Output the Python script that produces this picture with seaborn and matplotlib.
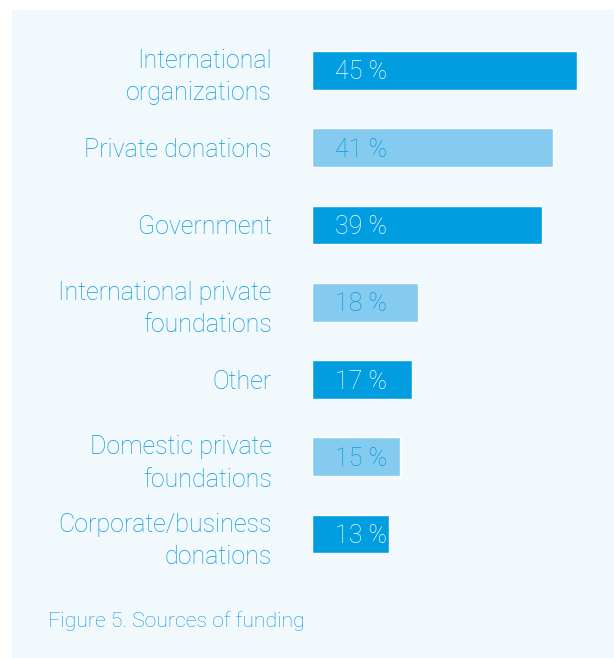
import matplotlib

matplotlib.use("Agg")

import matplotlib.pyplot as plt
import seaborn as sns
from matplotlib.patches import Rectangle

categories = [
    "International\norganizations",
    "Private donations",
    "Government",
    "International private\nfoundations",
    "Other",
    "Domestic private\nfoundations",
    "Corporate/business\ndonations",
]
shares = [45, 41, 39, 18, 17, 15, 13]
value_labels = ["45 %", "41 %", "39 %", "18 %", "17 %", "15 %", "13 %"]

DARK = "#009ee0"
LIGHT = "#84cbef"
TEXT = "#0c99dd"
PANEL = "#f2f9fd"
bar_colors = [DARK if i % 2 == 0 else LIGHT for i in range(len(categories))]
label_colors = ["#f7fbfe" if i % 2 == 0 else "#0c99dd" for i in range(len(categories))]

sns.set_theme(style="white")
plt.rcParams["font.family"] = ["Roboto", "DejaVu Sans"]

W, H = 614, 658
fig = plt.figure(figsize=(W / 100, H / 100), dpi=100, facecolor="white")
fig.patches.append(
    Rectangle((12 / W, 0), 1 - 12 / W, 1 - 10 / H, transform=fig.transFigure,
              facecolor=PANEL, edgecolor="none", zorder=-10)
)

ax = fig.add_axes([312 / W, 1 - 572.75 / H, 1 - 312 / W, 541 / H])
ax.set_facecolor("none")
sns.barplot(x=shares, y=categories, hue=categories, palette=bar_colors,
            legend=False, width=0.5, orient="h", ax=ax, saturation=1)
ax.set_xlim(0, 302 / 5.89)
ax.set_ylim(len(categories) - 0.5, -0.5)
for side in ax.spines.values():
    side.set_visible(False)
ax.set_xticks([])
ax.set_xlabel("")
ax.set_ylabel("")
ax.tick_params(axis="y", length=0, pad=29, labelsize=18, labelcolor=TEXT)
for lbl in ax.get_yticklabels():
    lbl.set_fontweight("light")
    lbl.set_linespacing(1.45)

bars = sorted(ax.patches, key=lambda p: p.get_y())
for bar, txt, col in zip(bars, value_labels, label_colors):
    ax.annotate(txt, (bar.get_x(), bar.get_y() + bar.get_height() / 2),
                xytext=(16.6, -1.5), textcoords="offset points",
                ha="left", va="center", fontsize=18, color=col, fontweight="light")

fig.text(48 / W, 1 - 621 / H, "Figure 5. Sources of funding", ha="left", va="center",
         fontsize=15.3, color=TEXT, fontweight="light")

fig.savefig("out.png", dpi=100, facecolor="white")
